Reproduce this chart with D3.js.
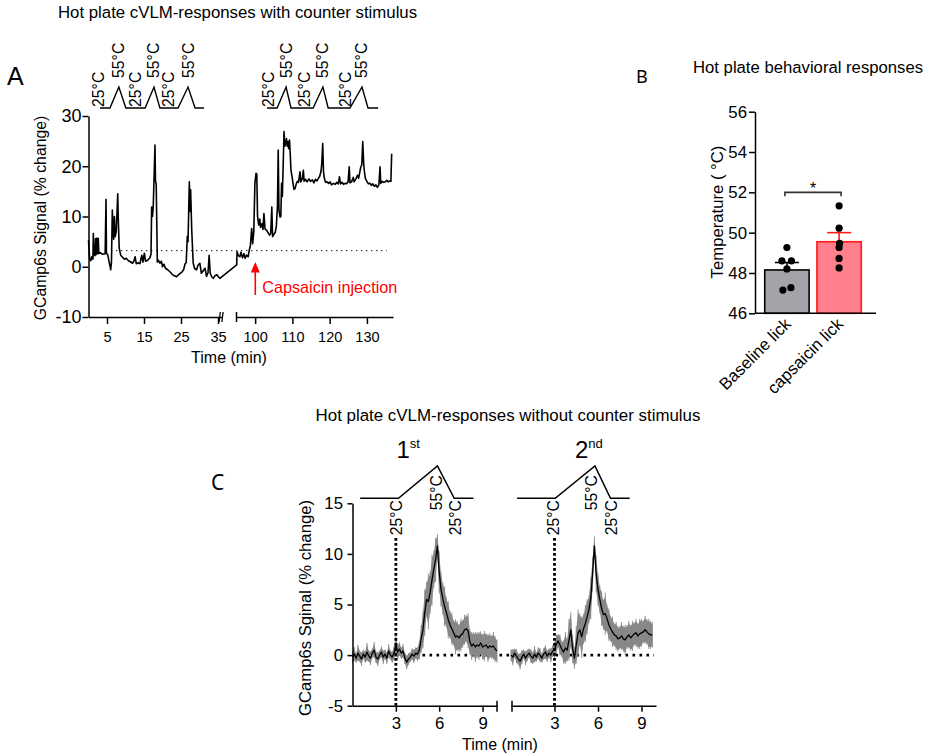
<!DOCTYPE html>
<html><head><meta charset="utf-8">
<script src="https://cdn.jsdelivr.net/npm/d3@7"></script>
<style>
body{margin:0;background:#fff}
svg text{font-family:"Liberation Sans",Arial,sans-serif;fill:#000}
</style></head><body>
<svg id="fig" width="930" height="756"></svg>
<script>
// ================= DATA =================
// Panel A: GCaMP6s trace (time in min, signal in % change)
const traceA_t = [0,0.3,0.6,0.9,1.2,1.3,1.45,1.7,1.9,2.05,2.3,2.45,2.65,2.8,3.2,3.7,4.5,4.73,4.85,5.2,5.5,5.8,6.0,6.2,6.44,6.6,6.8,7.0,7.2,7.5,7.9,8.05,8.3,8.7,9.2,9.7,10.2,10.8,11.3,11.9,12.3,12.6,12.9,13.4,13.9,14.4,14.7,15.1,15.4,16.0,16.6,16.9,17.07,17.3,17.5,17.97,18.1,18.3,18.45,18.6,18.9,19.3,19.7,20.0,20.4,20.8,21.4,22.0,22.6,23.2,23.8,24.3,24.8,25.3,25.7,26.1,26.4,26.7,26.9,27.25,27.45,27.6,27.9,28.3,28.7,29.2,29.6,30.1,30.5,31.0,31.5,31.9,32.3,32.6,32.9,33.3,33.7,34.2,34.7,35.1,35.5,
  95.05,95.15,95.5,95.9,96.2,96.6,97.0,97.3,97.7,98.1,98.4,98.7,99.04,99.3,99.6,99.9,100.2,100.4,100.6,100.9,101.2,101.4,101.8,102.05,102.3,102.6,103.0,103.4,103.8,104.1,104.4,104.6,105.0,105.3,105.6,105.9,106.1,106.3,106.6,106.8,107.0,107.2,107.4,107.65,107.85,108.0,108.3,108.5,108.7,108.9,109.1,109.3,109.5,109.8,110.0,110.3,110.6,110.9,111.2,111.5,111.9,112.1,112.5,112.8,113.0,113.4,113.8,114.3,114.7,115.2,115.6,116.0,116.4,116.8,117.1,117.5,117.7,117.95,118.15,118.35,118.7,119.1,119.5,119.9,120.3,120.8,121.3,121.7,122.1,122.4,122.7,123.1,123.5,123.9,124.3,124.7,125.0,125.2,125.6,126.1,126.3,126.8,127.2,127.5,127.8,128.1,128.35,128.6,128.85,129.0,129.3,129.7,130.1,130.5,130.9,131.3,131.7,132.1,132.5,132.9,133.2,133.4,133.8,134.2,134.6,135.0,135.4,135.8,136.1,136.3];
const traceA_v = [5.3,1.7,1.2,2.0,1.5,6.6,2.6,2.2,5.6,2.4,5.7,2.6,5.6,2.6,2.8,2.5,2.6,13.4,2.7,2.4,1.2,0.2,-0.6,0.8,11.3,8.0,5.5,10.0,6.0,7.0,14.5,9.6,3.7,2.3,1.9,1.5,1.7,1.2,1.0,0.7,1.2,2.0,0.6,0.8,0.6,2.3,0.9,2.7,1.1,1.3,1.8,2.5,11.9,10.0,12.0,24.2,17.2,16.3,9.0,0.9,1.3,0.7,1.1,0.0,0.5,-0.3,-0.6,-1.0,-1.5,-1.8,-2.0,-1.6,-1.3,-1.0,-0.6,0.6,0.8,6.0,5.0,16.9,11.0,15.3,7.3,0.7,-0.4,-0.6,0.3,0.7,-1.3,-0.8,-0.3,-1.9,-1.2,2.3,-1.3,-2.0,-2.3,-1.8,-1.6,-2.0,-2.3,
  0.35,3.0,2.2,2.0,2.9,1.8,2.6,1.7,2.3,2.0,3.3,4.2,7.6,4.6,7.0,16.6,18.6,18.4,10.0,8.3,9.5,7.8,8.6,7.4,10.6,7.5,7.3,6.8,6.3,6.6,11.9,6.0,6.5,6.8,8.0,12.0,23.2,11.3,9.9,10.0,16.6,14.0,19.6,26.9,24.0,24.3,25.5,24.0,24.9,23.5,25.2,22.5,19.2,17.9,16.8,15.4,15.6,16.5,17.0,16.8,18.9,16.9,17.5,19.2,17.0,17.4,16.9,17.5,17.0,17.3,16.7,17.4,17.1,17.6,17.9,19.0,20.6,24.5,19.0,17.7,16.8,16.9,16.6,16.9,16.3,16.6,16.4,16.8,16.5,17.9,16.5,16.8,16.4,16.6,16.5,16.9,19.9,16.7,16.9,17.8,16.9,17.5,18.2,17.6,18.8,19.9,20.3,24.9,20.5,19.2,17.6,17.0,16.5,16.6,16.2,16.5,16.0,16.3,15.8,16.3,19.9,16.6,17.0,16.8,16.9,17.2,16.9,17.1,17.0,22.5];
const ticksA_y = [-10, 0, 10, 20, 30];
const ticksA_x1 = [5, 15, 25, 35];
const ticksA_x2 = [100, 110, 120, 130];
const baselineA = 3.2;             // dotted reference level
const baselineA_span = [6.1, 135]; // time extent of the dotted reference
const capsaicinT = 100;            // capsaicin injection time
// Hot-plate stimulus profile (time, plate temperature)
const stimA1_t = [3.1, 5.8, 8.2, 10.1, 15.3, 17.7, 19.3, 24.2, 26.9, 28.8, 31.2];
const stimA2_t = [103.1, 105.8, 108.2, 109.5, 115.4, 118.0, 119.4, 125.2, 128.4, 130.0, 132.7];
const stimA_lv = [25, 25, 55, 25, 25, 55, 25, 25, 55, 25, 25];
const labA25_t = [2.6, 12.6, 21.5, 103.4, 113.2, 123.9];
const labA55_t = [8.2, 17.7, 26.9, 108.2, 118.0, 128.4];

// Panel B: behavioural responses
const groupsB = ["Baseline lick", "capsaicin lick"];
const meansB = [48.15, 49.55];
const semB = [0.37, 0.45];
const pointsB0 = [49.26, 48.6, 48.6, 48.2, 47.15, 47.27];
const pointsB1 = [51.33, 50.22, 49.47, 49.27, 48.72, 48.25];
const ticksB = [46, 48, 50, 52, 54, 56];
const sigB = 52;

// Panel C: mean +/- SEM traces, sampled every 0.125 min
const meanC1 = [-0.2,0.1,-0.3,0.2,-0.1,-0.4,0.1,-0.2,0.3,-0.1,
  -0.3,0.2,0.5,-0.2,-0.4,0.0,0.3,-0.2,0.1,-0.3,
  0.4,0.0,-0.2,0.2,1.0,0.3,0.6,0.2,0.4,-0.3,
  -0.7,-0.4,-0.2,0.1,-0.1,0.2,0.1,0.5,1.6,2.5,
  4.2,5.5,5.3,6.2,7.4,8.5,9.4,10.8,8.2,6.5,
  5.6,4.8,4.2,3.5,3.0,2.6,2.2,1.8,1.9,1.7,
  2.0,2.1,2.5,2.6,2.4,1.3,0.9,1.1,0.8,1.0,
  0.9,1.2,0.8,0.9,1.0,0.7,0.9,0.8,0.9,0.6,0.4];
const semC1 = [0.5,0.6,0.4,0.7,0.5,0.6,0.4,0.5,0.8,0.5,
  0.6,0.4,0.7,0.5,0.6,0.4,0.5,0.6,0.4,0.5,
  0.6,0.4,0.5,0.6,0.8,0.7,0.6,0.5,0.6,0.5,
  0.6,0.5,0.4,0.5,0.6,0.5,0.6,0.8,1.2,1.6,
  2.0,1.5,2.4,1.8,2.2,1.6,1.9,1.0,1.8,1.5,
  1.4,1.7,1.3,1.6,1.2,1.4,1.1,1.5,1.3,1.2,
  1.4,1.2,1.3,1.2,1.5,1.1,1.2,1.0,1.3,1.1,
  1.2,1.0,1.1,1.3,1.0,1.2,1.1,1.0,1.2,1.1,1.0];
const meanC2 = [0.0,-0.2,0.2,-0.1,-0.4,-0.6,-0.2,0.1,-0.3,0.0,
  0.2,-0.1,-0.3,0.1,-0.2,0.2,0.0,-0.3,0.1,0.3,
  -0.1,0.2,0.0,0.4,0.5,1.1,1.4,1.0,0.6,0.3,
  0.7,0.5,1.5,2.5,0.6,-0.3,1.0,2.2,2.5,1.8,
  2.6,3.1,3.8,4.5,5.6,8.0,10.8,8.0,6.5,5.5,
  4.6,4.0,4.1,3.6,3.0,2.6,2.3,2.0,1.9,1.6,
  1.7,1.9,1.6,1.5,1.8,2.0,1.7,1.9,2.1,2.2,
  1.9,2.1,2.2,2.3,2.5,2.3,2.1,2.0,2.0];
const semC2 = [0.5,0.7,0.4,0.6,0.5,0.7,0.6,0.4,0.6,0.5,
  0.4,0.6,0.5,0.7,0.4,0.5,0.6,0.4,0.5,0.6,
  0.5,0.4,0.6,0.5,0.7,0.8,0.6,0.9,0.7,1.0,
  1.4,1.0,1.8,1.5,1.2,0.9,1.6,2.0,1.4,1.8,
  1.3,1.6,1.5,1.2,1.8,1.5,0.8,1.6,1.4,1.2,
  1.5,1.3,1.8,1.2,1.4,1.1,1.3,1.0,1.2,1.1,
  1.0,1.2,1.1,1.3,1.0,1.2,1.1,1.3,1.0,1.2,
  1.1,1.3,1.2,1.0,1.2,1.1,1.3,1.2,1.1];
const stepC = 0.125;
const ticksC_y = [-5, 0, 5, 10, 15];
const ticksC_x = [3, 6, 9];
const onsetC = 3;          // stimulus onset (vertical dotted line)
const onsetC_top = 11.7;   // top of the onset line (signal units)
const stimC1_t = [0.53, 3.18, 5.88, 7.04, 8.37];
const stimC2_t = [0.42, 3.05, 5.79, 6.86, 8.18];
const stimC_lv = [25, 25, 55, 25, 25];
const labC1_t = [3.02, 5.79, 7.1];
const labC2_t = [2.91, 5.58, 6.95];
const labC_txt = ["25°C", "55°C", "25°C"];

// ================= DRAW =================
const svg = d3.select("#fig");
const BLACK = "#000";
const plain = d => String(d);   // hyphen-minus like the original

function styleAxis(g, fs) {
  g.select(".domain").attr("stroke", BLACK).attr("stroke-width", 1.5);
  g.selectAll(".tick line").attr("stroke", BLACK).attr("stroke-width", 1.5);
  g.selectAll(".tick text").attr("font-size", fs).attr("font-family", '"Liberation Sans",Arial,sans-serif').attr("fill", BLACK);
}
function rotLabel(parent, x, y, txt, fs, anchor) {
  parent.append("text").attr("transform", `translate(${x},${y}) rotate(-90)`)
    .attr("text-anchor", anchor).attr("font-size", fs).text(txt);
}

// ---------- Panel A ----------
svg.append("text").attr("x", 58).attr("y", 18).attr("font-size", 16.8)
  .text("Hot plate cVLM-responses with counter stimulus");
svg.append("text").attr("x", 7).attr("y", 85).attr("font-size", 25).text("A");

const xA = d3.scaleLinear().domain([0, 36, 95, 137]).range([88.5, 221.7, 236.5, 394.3]);
const xA1 = d3.scaleLinear().domain([0, 36]).range([88.5, 221.7]);
const xA2 = d3.scaleLinear().domain([95, 137]).range([236.5, 393]);
const yA = d3.scaleLinear().domain([-10, 30]).range([317, 116]);
const yStimA = d3.scaleLinear().domain([25, 55]).range([108, 87]);

const gA = svg.append("g");
const ayA = gA.append("g").attr("transform", "translate(88.5,0)")
  .call(d3.axisLeft(yA).tickValues(ticksA_y).tickFormat(plain).tickSize(6).tickSizeOuter(0).tickPadding(1));
styleAxis(ayA, 18);
const ax1 = gA.append("g").attr("transform", "translate(0,317)")
  .call(d3.axisBottom(xA1).tickValues(ticksA_x1).tickFormat(plain).tickSize(7).tickSizeOuter(0).tickPadding(7.5));
styleAxis(ax1, 14.5);
const ax2 = gA.append("g").attr("transform", "translate(0,317)")
  .call(d3.axisBottom(xA2).tickValues(ticksA_x2).tickFormat(plain).tickSize(7).tickSizeOuter(0).tickPadding(7.5));
styleAxis(ax2, 14.5);
// axis break marks
[xA1.range()[1] - 2, xA1.range()[1] + 0.8].forEach(x =>
  gA.append("line").attr("x1", x - 0.6).attr("x2", x + 0.6).attr("y1", 322).attr("y2", 312)
    .attr("stroke", BLACK).attr("stroke-width", 1.3));
gA.append("line").attr("x1", xA2.range()[0]).attr("x2", xA2.range()[0]).attr("y1", 322).attr("y2", 312)
  .attr("stroke", BLACK).attr("stroke-width", 1.5);

gA.append("text").attr("x", 229).attr("y", 363).attr("text-anchor", "middle").attr("font-size", 16).text("Time (min)");
rotLabel(gA, 45.5, 218, "GCamp6s Signal (% change)", 15.8, "middle");

// dotted reference
gA.append("line").attr("x1", xA(baselineA_span[0])).attr("x2", xA(baselineA_span[1]))
  .attr("y1", yA(baselineA)).attr("y2", yA(baselineA))
  .attr("stroke", BLACK).attr("stroke-width", 1).attr("stroke-dasharray", "1.3 3.7");

// trace
gA.append("path").datum(d3.range(traceA_t.length))
  .attr("d", d3.line().x(i => xA(traceA_t[i])).y(i => yA(traceA_v[i])))
  .attr("fill", "none").attr("stroke", BLACK).attr("stroke-width", 1.6).attr("stroke-linejoin", "round");

// stimulus profile
[stimA1_t, stimA2_t].forEach(ts => {
  gA.append("path").datum(d3.range(ts.length))
    .attr("d", d3.line().x(i => xA(ts[i])).y(i => yStimA(stimA_lv[i])))
    .attr("fill", "none").attr("stroke", BLACK).attr("stroke-width", 1.4);
});
labA25_t.forEach(t => rotLabel(gA, xA(t) + 5.5, 107, "25°C", 15.8, "start"));
labA55_t.forEach(t => rotLabel(gA, xA(t) + 5.5, 78, "55°C", 15.8, "start"));

// capsaicin arrow
const axC = xA(capsaicinT);
gA.append("line").attr("x1", axC).attr("x2", axC).attr("y1", 295).attr("y2", 270)
  .attr("stroke", "#ff0000").attr("stroke-width", 1.6);
gA.append("path").attr("d", `M${axC},262 L${axC - 4.5},272.5 L${axC + 4.5},272.5 Z`).attr("fill", "#ff0000");
gA.append("text").attr("x", axC + 7).attr("y", 293).attr("font-size", 16.2)
  .style("fill", "#ff0000").text("Capsaicin injection");

// ---------- Panel B ----------
svg.append("text").attr("x", 693).attr("y", 73).attr("font-size", 16.7).text("Hot plate behavioral responses");
svg.append("text").attr("x", 636).attr("y", 83).attr("font-size", 18)
  .style("font-family", '"Noto Sans",sans-serif').text("B");

const yB = d3.scaleLinear().domain([46, 56]).range([313.3, 111.7]);
const xB = d3.scaleBand().domain(groupsB).range([759.5, 866.5]).paddingInner(0.15).paddingOuter(0.1);
const gB = svg.append("g");
const fillsB = ["#a3a3aa", "#ff808c"];
const strokesB = [BLACK, "#ff1a1a"];

groupsB.forEach((g, i) => {
  gB.append("rect").attr("x", xB(g)).attr("width", xB.bandwidth())
    .attr("y", yB(meansB[i])).attr("height", yB(46) - yB(meansB[i]))
    .attr("fill", fillsB[i]).attr("stroke", strokesB[i]).attr("stroke-width", 1.6);
  const cx = xB(g) + xB.bandwidth() / 2;
  gB.append("line").attr("x1", cx).attr("x2", cx).attr("y1", yB(meansB[i])).attr("y2", yB(meansB[i] + semB[i]))
    .attr("stroke", strokesB[i]).attr("stroke-width", 1.6);
  gB.append("line").attr("x1", cx - 12).attr("x2", cx + 12).attr("y1", yB(meansB[i] + semB[i])).attr("y2", yB(meansB[i] + semB[i]))
    .attr("stroke", strokesB[i]).attr("stroke-width", 1.6);
});
const jitterB = [[0, -5, 4.5, 0, -4, 4], [0, 0, 0.5, 0, 0, 0]];
[pointsB0, pointsB1].forEach((pts, i) => {
  const cx = xB(groupsB[i]) + xB.bandwidth() / 2;
  gB.selectAll(null).data(pts).enter().append("circle")
    .attr("cx", (d, j) => cx + jitterB[i][j]).attr("cy", d => yB(d)).attr("r", 3.6).attr("fill", BLACK);
});
const ayB = gB.append("g").attr("transform", "translate(755,0)")
  .call(d3.axisLeft(yB).tickValues(ticksB).tickFormat(plain).tickSize(6).tickSizeOuter(0).tickPadding(2));
styleAxis(ayB, 16.8);
gB.append("line").attr("x1", 755).attr("x2", 876).attr("y1", yB(46)).attr("y2", yB(46))
  .attr("stroke", BLACK).attr("stroke-width", 1.5);
groupsB.forEach(g => {
  const cx = xB(g) + xB.bandwidth() / 2;
  gB.append("text").attr("transform", `translate(${cx + 5},${325}) rotate(-45)`)
    .attr("text-anchor", "end").attr("font-size", 16.8).text(g);
});
rotLabel(gB, 723, 212, "Temperature ( °C)", 16.7, "middle");
// significance bracket
const bx0 = xB(groupsB[0]) + xB.bandwidth() / 2 - 2, bx1 = xB(groupsB[1]) + xB.bandwidth() / 2 + 2;
gB.append("path").attr("d", `M${bx0},${yB(sigB) + 4}V${yB(sigB)}H${bx1}V${yB(sigB) + 4}`)
  .attr("fill", "none").attr("stroke", "#333").attr("stroke-width", 1.6);
gB.append("text").attr("x", (bx0 + bx1) / 2).attr("y", yB(sigB) + 2).attr("text-anchor", "middle")
  .attr("font-size", 16).text("*");

// ---------- Panel C ----------
svg.append("text").attr("x", 508).attr("y", 421).attr("text-anchor", "middle").attr("font-size", 16.9)
  .text("Hot plate cVLM-responses without counter stimulus");
svg.append("text").attr("x", 211).attr("y", 490).attr("font-size", 21)
  .style("font-family", '"Noto Sans",sans-serif').text("C");

const yC = d3.scaleLinear().domain([-5, 15]).range([705.7, 503.3]);
const xC1 = d3.scaleLinear().domain([0, 10]).range([352.5, 497]);
const xC2 = d3.scaleLinear().domain([0, 10]).range([511, 656]);
const yStimC = d3.scaleLinear().domain([25, 55]).range([498.3, 466]);
const gC = svg.append("g");

// horizontal zero dotted line
gC.append("line").attr("x1", xC1(0)).attr("x2", xC2(10) - 2).attr("y1", yC(0)).attr("y2", yC(0))
  .attr("stroke", BLACK).attr("stroke-width", 2.6).attr("stroke-dasharray", "2.6 4.4");

[[xC1, meanC1, semC1, stimC1_t, labC1_t], [xC2, meanC2, semC2, stimC2_t, labC2_t]].forEach(([xs, m, s, st, lt]) => {
  const idx = d3.range(m.length);
  gC.append("path").datum(idx)
    .attr("d", d3.area().x(i => xs(i * stepC)).y0(i => yC(m[i] - s[i])).y1(i => yC(m[i] + s[i])))
    .attr("fill", "#858585");
  // vertical SEM streaks
  gC.selectAll(null).data(idx).enter().append("line")
    .attr("x1", i => xs(i * stepC)).attr("x2", i => xs(i * stepC))
    .attr("y1", i => yC(m[i] - s[i] * 1.15)).attr("y2", i => yC(m[i] + s[i] * 1.15))
    .attr("stroke", "#8a8a8a").attr("stroke-width", 0.9);
  gC.append("path").datum(idx)
    .attr("d", d3.line().x(i => xs(i * stepC)).y(i => yC(m[i])))
    .attr("fill", "none").attr("stroke", BLACK).attr("stroke-width", 1.3).attr("stroke-linejoin", "round");
  // onset dotted line
  gC.append("line").attr("x1", xs(onsetC)).attr("x2", xs(onsetC)).attr("y1", yC(-5)).attr("y2", yC(onsetC_top))
    .attr("stroke", BLACK).attr("stroke-width", 2.8).attr("stroke-dasharray", "2.6 2.4");
  // x axis
  const ax = gC.append("g").attr("transform", `translate(0,${yC(-5)})`)
    .call(d3.axisBottom(xs).tickValues(ticksC_x).tickFormat(plain).tickSize(6).tickSizeOuter(0).tickPadding(5.6));
  styleAxis(ax, 16.8);
  // stimulus
  gC.append("path").datum(d3.range(st.length))
    .attr("d", d3.line().x(i => xs(st[i])).y(i => yStimC(stimC_lv[i])))
    .attr("fill", "none").attr("stroke", BLACK).attr("stroke-width", 1.5);
  lt.forEach((t, k) => rotLabel(gC, xs(t) + 5.5, k === 1 ? 475 : 500, labC_txt[k], 15.8, "end"));
});
// segment break marks
[xC1(10), xC2(0) + 1].forEach(x => gC.append("line").attr("x1", x).attr("x2", x)
  .attr("y1", yC(-5) - 5).attr("y2", yC(-5) + 6).attr("stroke", BLACK).attr("stroke-width", 1.5));

const ayC = gC.append("g").attr("transform", `translate(${xC1(0)},0)`)
  .call(d3.axisLeft(yC).tickValues(ticksC_y).tickFormat(plain).tickSize(5).tickSizeOuter(0).tickPadding(4.5));
styleAxis(ayC, 16.8);
rotLabel(gC, 311, 608, "GCamp6s Sginal (% change)", 16.7, "middle");
gC.append("text").attr("x", 500).attr("y", 750).attr("text-anchor", "middle").attr("font-size", 16).text("Time (min)");

// 1st / 2nd headers
[["1", "st", 396.5], ["2", "nd", 575]].forEach(([n, sup, x]) => {
  const t = gC.append("text").attr("x", x).attr("y", 458).attr("font-size", 24);
  t.append("tspan").text(n);
  t.append("tspan").attr("font-size", 13).attr("dy", -10).text(sup);
});
</script>
</body></html>
